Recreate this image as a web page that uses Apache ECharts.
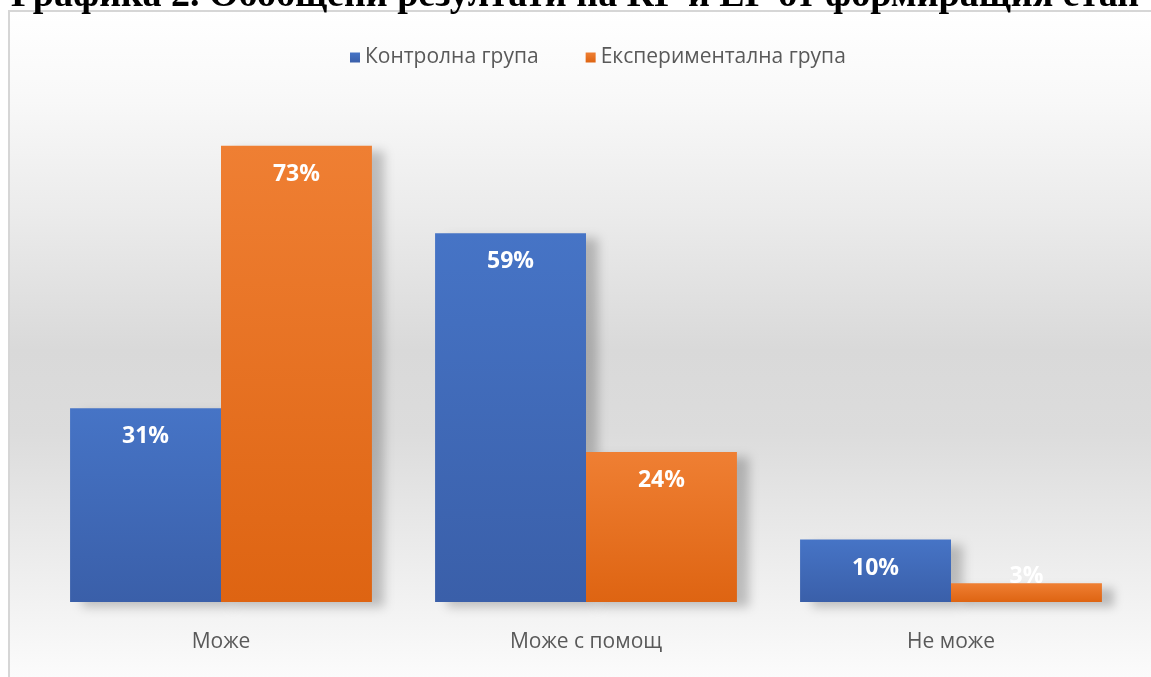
<!DOCTYPE html>
<html><head><meta charset="utf-8">
<script src="https://cdn.jsdelivr.net/npm/echarts@6/dist/echarts.min.js"></script>
<style>html,body{margin:0;padding:0;background:#fff;}#c{width:1151px;height:677px;}</style>
</head><body><div id="c"></div>
<script>
const titleText = 'Графика 2. Обобщени резултати на КГ и ЕГ от формиращия етап';
const categories = ['Може', 'Може с помощ', 'Не може'];
const seriesNames = ['Контролна група', 'Експериментална група'];
const controlValues = [31, 59, 10];
const experimentalValues = [73, 24, 3];

const chart = echarts.init(document.getElementById('c'));
function grad(top, bottom){
  return new echarts.graphic.LinearGradient(0,0,0,1,[{offset:0,color:top},{offset:1,color:bottom}]);
}
function items(vals){
  return vals.map(v => v < 6 ? {value:v, label:{position:'top', distance:-5}} : v);
}
const labelCfg = {show:true, position:'insideTop', distance:17, color:'#fff', fontFamily:'Open Sans', fontWeight:'bold', fontSize:23, formatter:'{c}%'};
const shadow = {shadowColor:'rgba(0,0,0,0.22)', shadowBlur:10, shadowOffsetX:12, shadowOffsetY:5};
chart.setOption({
  animation:false,
  graphic:[
    {type:'rect', z:-10, shape:{x:9, y:11, width:1160, height:680},
     style:{stroke:'#d6d6d6', lineWidth:2,
       fill:new echarts.graphic.LinearGradient(0,0,0,1,[
         {offset:0,color:'#ffffff'},{offset:0.12,color:'#f9f9f9'},{offset:0.3,color:'#ebebeb'},
         {offset:0.5,color:'#d9d9d9'},{offset:0.62,color:'#dcdcdc'},{offset:0.8,color:'#ececec'},
         {offset:1,color:'#fdfdfd'}])}},
    {type:'text', z:10, style:{x:11, y:15, text:titleText, font:'bold 38px "Liberation Serif"', fill:'#000', verticalAlign:'bottom'}}
  ],
  legend:{top:42, left:345, itemWidth:10, itemHeight:10, itemGap:47,
    icon:'rect', textStyle:{color:'#595959', fontFamily:'Open Sans', fontSize:21}, data:seriesNames},
  grid:{left:38.5, right:17.5, top:102, bottom:75},
  xAxis:{type:'category', data:categories, axisLine:{show:false}, axisTick:{show:false},
    axisLabel:{color:'#595959', fontFamily:'Open Sans', fontSize:21, margin:30}},
  yAxis:{type:'value', min:0, max:80, show:false, splitLine:{show:false}},
  series:[
    {name:seriesNames[0], type:'bar', data:items(controlValues), barGap:'0%', barCategoryGap:'17.3%',
     itemStyle:Object.assign({color:grad('#4674c6','#3a5fa9')}, shadow), label:labelCfg},
    {name:seriesNames[1], type:'bar', data:items(experimentalValues),
     itemStyle:Object.assign({color:grad('#ef7f33','#de6412')}, shadow), label:labelCfg}
  ]
});
</script></body></html>
